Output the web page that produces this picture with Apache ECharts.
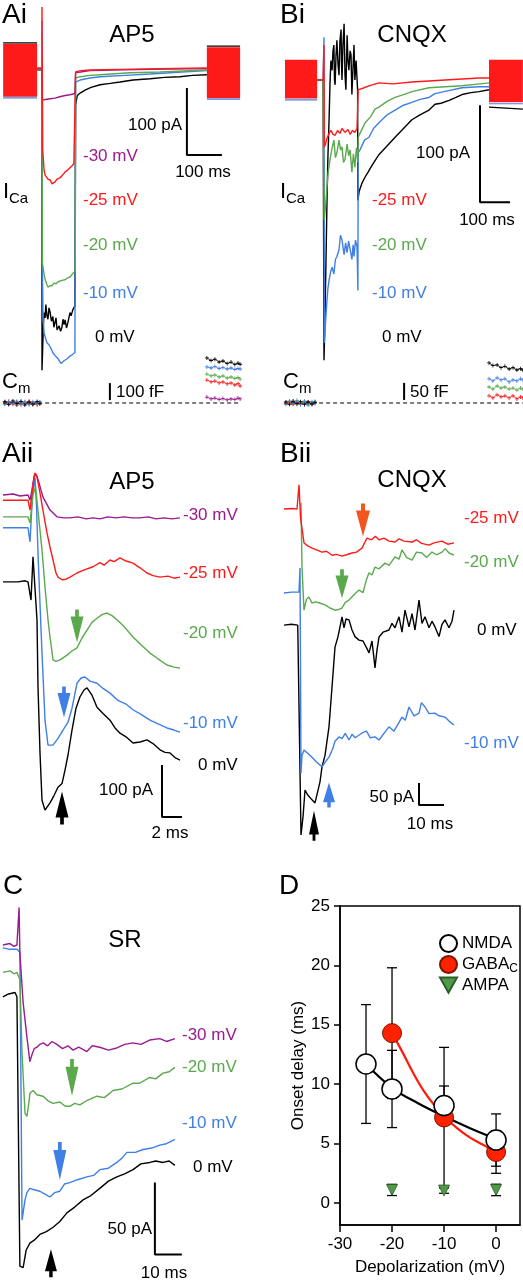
<!DOCTYPE html>
<html>
<head>
<meta charset="utf-8">
<script src="https://cdn.jsdelivr.net/npm/echarts@6.0.0/dist/echarts.min.js"></script>
<style>
html,body{margin:0;padding:0;background:#fff;}
#c{width:523px;height:1280px;}
</style>
</head>
<body>
<div id="c"></div>
<script>
// ================= DATA (time in ms, current in pA, capacitance in fF) =================
// ---- Panel Ai (AP5, I_Ca during step) ----
const aiPurple = [[-14,2],[0,2],[1,-45],[10,-44],[23,-43],[37,-42],[51,-40],[66,-38],[80,-37],[94,-35],[96,-4],[110,-3],[137,-1],[200,0],[309,1],[471,2]];
const aiRed = [[-14,3],[0,3],[0,94],[2,-119],[6,-150],[9,-157],[17,-163],[23,-164],[29,-170],[37,-167],[43,-163],[51,-161],[57,-158],[66,-152],[74,-149],[80,-146],[86,-143],[91,-140],[94,-142],[96,-3],[110,-1],[137,0],[223,1],[337,2],[471,3]];
const aiGreen = [[-14,0],[0,0],[1,-288],[6,-305],[9,-313],[14,-320],[17,-324],[23,-322],[29,-322],[34,-318],[40,-319],[46,-316],[51,-318],[57,-314],[66,-313],[74,-310],[80,-309],[86,-305],[91,-303],[95,-300],[96,-12],[109,-10],[137,-8],[166,-7],[251,-4],[337,-3],[471,0]];
const aiBlack = [[-14,0],[0,0],[0,-448],[4,-380],[6,-362],[9,-370],[11,-350],[14,-366],[17,-372],[20,-355],[23,-361],[27,-375],[31,-368],[34,-384],[40,-370],[43,-388],[49,-382],[53,-390],[57,-384],[60,-372],[63,-380],[66,-373],[70,-385],[74,-377],[80,-362],[83,-367],[88,-358],[91,-360],[94,-352],[96,-52],[100,-40],[103,-37],[110,-34],[123,-30],[140,-26],[166,-22],[195,-20],[223,-18],[260,-15],[309,-13],[350,-11],[394,-10],[430,-8],[471,-7]];
const aiBlue = [[-14,0],[0,0],[0,73],[1,-290],[3,-370],[6,-393],[11,-402],[14,-407],[20,-410],[23,-413],[28,-418],[31,-422],[37,-426],[40,-428],[46,-431],[49,-433],[54,-438],[57,-436],[63,-434],[66,-433],[72,-431],[74,-430],[80,-427],[86,-425],[91,-423],[94,-422],[96,-18],[109,-15],[137,-12],[166,-10],[237,-8],[309,-6],[400,-3],[471,-1]];
// sine-wave (capacitance) stimulus blocks: [tStart, Itop, tEnd, Ibottom]
const aiBlocks = [[-111,39,-14,-40],[471,34,566,-42]];
const aiScale = [[414,-27],[414,-127],[514,-127]];           // 100 pA, 100 ms
// Ai capacitance (fF)
const aiCmBlack  = [[-106,6],[-95,-9],[-83,12],[-72,-4],[-60,10],[-49,-12],[-37,5],[-26,-7],[-14,9],[-6,-2],'-',[471,265],[483,250],[494,258],[506,241],[517,247],[529,232],[540,241],[551,226],[560,235],[566,228]];
const aiCmBlue   = [[-106,-8],[-95,7],[-83,-3],[-72,11],[-60,-6],[-49,4],[-37,-10],[-26,8],[-14,-4],[-6,6],'-',[471,212],[483,206],[494,215],[506,203],[517,209],[529,200],[540,206],[551,197],[560,203],[566,200]];
const aiCmGreen  = [[-106,4],[-95,-4],[-83,8],[-72,-9],[-60,3],[-49,9],[-37,-6],[-26,2],[-14,-8],[-6,3],'-',[471,170],[483,159],[494,165],[506,153],[517,159],[529,147],[540,153],[551,144],[560,150],[566,141]];
const aiCmRed    = [[-106,-3],[-95,10],[-83,-7],[-72,5],[-60,-10],[-49,2],[-37,8],[-26,-9],[-14,4],[-6,-6],'-',[471,135],[483,124],[494,129],[506,118],[517,124],[529,112],[540,118],[551,106],[560,115],[566,100]];
const aiCmPurple = [[-106,9],[-95,-5],[-83,2],[-72,-12],[-60,6],[-49,-3],[-37,10],[-26,-4],[-14,-10],[-6,1],'-',[471,35],[483,24],[494,29],[506,21],[517,26],[529,18],[540,24],[551,21],[560,29],[566,24]];
const aiCmBase = [[-111,0],[566,0]];
const aiCmScale = [[194,17],[194,117]];                        // 100 fF

// ---- Panel Bi (CNQX) ----
const biRed = [[-23,0],[-3,0],[0,36],[1,-69],[5,-66],[10,-60],[13,-62],[17,-55],[23,-52],[30,-56],[37,-57],[45,-52],[53,-55],[60,-50],[70,-54],[80,-51],[87,-56],[95,-52],[103,-54],[110,-50],[113,-52],[114,-10],[125,-9],[150,-6],[183,-3],[230,-4],[293,-2],[350,-1],[403,0],[460,1],[517,2],[550,2]];
const biGreen = [[-23,0],[-3,0],[1,-144],[5,-130],[10,-110],[14,-95],[20,-82],[27,-70],[33,-62],[38,-80],[43,-75],[50,-62],[55,-72],[60,-69],[65,-85],[70,-82],[77,-66],[82,-78],[87,-72],[93,-95],[98,-76],[103,-90],[108,-70],[113,-85],[114,-59],[120,-55],[137,-44],[155,-38],[170,-30],[183,-28],[210,-22],[237,-18],[265,-15],[293,-12],[350,-8],[403,-7],[460,-6],[520,-4],[550,-3]];
const biBlue = [[-23,0],[-3,0],[0,44],[1,-271],[5,-250],[10,-227],[13,-215],[17,-206],[22,-198],[27,-193],[33,-200],[38,-185],[43,-182],[50,-175],[55,-160],[60,-165],[67,-180],[72,-168],[77,-178],[82,-166],[87,-168],[93,-185],[97,-170],[100,-182],[105,-165],[110,-172],[112,-200],[113,-217],[114,-75],[120,-72],[135,-62],[150,-59],[165,-50],[183,-44],[210,-36],[237,-31],[265,-26],[293,-23],[320,-20],[350,-18],[370,-14],[400,-12],[460,-8],[517,-7],[550,-7]];
const biBlack = [[-23,0],[-3,0],[0,-289],[3,-250],[7,-180],[10,-124],[13,-80],[17,-40],[20,-3],[23,20],[27,10],[30,30],[33,36],[35,0],[37,-5],[40,25],[43,41],[47,15],[50,5],[53,40],[57,52],[58,20],[60,0],[63,35],[67,58],[70,5],[73,-10],[77,46],[80,20],[83,10],[87,30],[90,26],[93,-15],[97,15],[100,36],[103,0],[107,20],[110,21],[112,-10],[113,-124],[117,-115],[127,-106],[137,-100],[147,-95],[160,-88],[183,-77],[210,-68],[237,-59],[265,-50],[293,-41],[320,-36],[350,-31],[370,-25],[390,-24],[417,-21],[440,-18],[460,-15],[490,-13],[517,-12],[550,-10]];
const biBlocks = [[-130,21,-23,-19],[550,21,663,-23]];
const biScale = [[520,-26],[520,-126],[620,-126]];            // 100 pA, 100 ms
const biCmBlack = [[-127,3],[-115,-4],[-103,5],[-90,-2],[-78,4],[-65,-5],[-53,3],[-40,-3],[-30,2],'-',[550,118],[563,110],[577,112],[590,104],[603,108],[617,100],[630,104],[643,97],[655,101],[663,97]];
const biCmBlue  = [[-127,-4],[-115,6],[-103,-2],[-90,8],[-78,-5],[-65,3],[-53,-6],[-40,4],[-30,-2],'-',[550,71],[563,65],[577,74],[590,68],[603,71],[617,62],[630,68],[643,65],[655,71],[663,68]];
const biCmGreen = [[-127,2],[-115,-2],[-103,6],[-90,-4],[-78,2],[-65,6],[-53,-3],[-40,1],[-30,5],'-',[550,47],[563,41],[577,50],[590,44],[603,47],[617,41],[630,44],[643,38],[655,44],[663,41]];
const biCmRed   = [[-127,-1],[-115,3],[-103,-4],[-90,2],[-78,-3],[-65,1],[-53,4],[-40,-5],[-30,1],'-',[550,21],[563,15],[577,24],[590,18],[603,21],[617,15],[630,21],[643,12],[655,18],[663,15]];
const biCmBase = [[-133,0],[663,0]];
const biCmScale = [[267,9],[267,59]];                          // 50 fF

// ---- Panel Aii (AP5, expanded) ----
const aiiPurple = [[-2.5,0],[-1.5,2],[-0.8,-2],[0,0],[0.2,-10],[0.4,10],[0.6,35],[0.7,42],[0.85,38],[1.0,30],[1.5,-4],[2.2,-29],[2.9,-42],[3.6,-44],[4.2,-44],[5.0,-42],[5.8,-46],[6.5,-44],[7.2,-46],[8.0,-42],[8.8,-44],[9.6,-42],[10.4,-44],[11.2,-44],[12.0,-42],[12.8,-46],[13.6,-44],[14.4,-46],[15.2,-44]];
const aiiRed = [[-2.5,-10],[-1,-10],[0,-10],[0.2,-29],[0.5,20],[0.7,42],[0.9,35],[1.2,4],[1.5,-30],[1.9,-73],[2.2,-100],[2.5,-125],[2.8,-150],[3.0,-158],[3.4,-163],[3.8,-162],[4.2,-158],[4.9,-150],[5.5,-145],[6.5,-138],[7.2,-130],[7.6,-135],[8.2,-125],[8.6,-128],[9.2,-121],[9.8,-127],[10.5,-131],[11.2,-140],[11.9,-150],[12.5,-155],[13.2,-158],[14.0,-156],[14.6,-160],[15.2,-158]];
const aiiGreen = [[-2.5,-42],[-1,-42],[0,-42],[0.2,-54],[0.5,0],[0.75,15],[1.0,-30],[1.4,-106],[1.7,-177],[2.0,-240],[2.2,-273],[2.5,-317],[2.8,-320],[3.2,-317],[3.9,-308],[4.4,-300],[4.9,-294],[5.4,-275],[5.9,-260],[6.4,-245],[6.9,-237],[7.4,-230],[7.9,-227],[8.4,-232],[8.9,-240],[9.7,-255],[10.5,-273],[11.3,-288],[12.2,-304],[13.0,-315],[13.9,-327],[14.6,-331],[15.2,-333]];
const aiiBlue = [[-2.5,-63],[-1,-63],[0,-63],[0.2,-90],[0.45,0],[0.7,33],[0.85,-20],[1.0,-112],[1.2,-210],[1.4,-304],[1.7,-433],[2.0,-481],[2.5,-481],[3.0,-468],[3.5,-452],[4.0,-437],[4.4,-410],[4.9,-362],[5.3,-352],[5.7,-350],[6.2,-358],[6.9,-362],[7.5,-372],[8.2,-381],[9.0,-395],[9.8,-402],[10.5,-413],[11.3,-422],[12.2,-433],[13.0,-440],[13.9,-448],[14.6,-452],[15.2,-456]];
const aiiBlack = [[-2.5,-167],[-1,-167],[-0.3,-165],[0,-167],[0.3,-202],[0.5,-119],[0.7,-180],[0.9,-240],[1.0,-369],[1.2,-496],[1.4,-587],[1.7,-606],[2.2,-592],[2.6,-578],[3.0,-562],[3.4,-555],[3.7,-529],[4.0,-500],[4.4,-452],[4.8,-410],[5.2,-388],[5.6,-375],[5.9,-371],[6.4,-385],[6.9,-408],[7.5,-420],[8.2,-433],[8.7,-448],[9.2,-458],[9.8,-465],[10.5,-477],[11.2,-475],[11.9,-471],[12.5,-478],[13.2,-490],[13.7,-495],[14.2,-496],[14.7,-505],[15.2,-510]];
const aiiArrowsDown = { green: [4.9,-252], blue: [3.6,-398] };
const aiiArrowsUp = { black: [3.4,-602] };
const aiiScale = [[13.4,-519],[13.4,-619],[15.4,-619]];      // 100 pA, 2 ms

// ---- Panel Bii (CNQX, expanded) ----
const biiRed = [[-6,0],[-3,1],[-0.8,0],[0,55],[0.6,-20],[2,-77],[3.5,-84],[5.2,-89],[7,-93],[9.2,-98],[11,-96],[13.2,-105],[15,-103],[17.2,-107],[19,-104],[21.2,-100],[23,-98],[25.2,-89],[26,-85],[27.2,-66],[29,-70],[30.5,-62],[32,-70],[34,-66],[36,-73],[38.4,-75],[40,-68],[42,-73],[45.2,-75],[47,-70],[49,-78],[52,-82],[54,-77],[57.2,-73],[59.5,-80],[62,-77]];
const biiGreen = [[0.8,14],[1.0,-60],[1.2,-132],[2,-230],[3,-205],[4,-200],[5.2,-214],[6.4,-211],[8,-213],[10.4,-218],[12.4,-225],[14.4,-230],[16,-228],[17.2,-225],[18.5,-212],[20,-207],[22,-195],[24,-184],[25.6,-190],[27,-160],[28,-145],[29.2,-150],[30.4,-132],[32,-136],[34.4,-123],[36,-128],[38.4,-109],[40,-114],[41.2,-93],[43,-110],[45.2,-116],[47,-98],[49.2,-100],[51,-110],[53.2,-98],[55,-104],[57.2,-98],[58.5,-90],[60,-100],[62,-105]];
const biiBlack = [[-6,-264],[-3,-262],[-0.5,-264],[0,-264],[0.8,-741],[1.6,-700],[2.4,-639],[3.5,-650],[5.2,-661],[6.4,-668],[7.2,-668],[8.4,-620],[9.2,-586],[10.4,-560],[12,-495],[12.6,-450],[13.2,-405],[14.4,-314],[15.6,-290],[16.4,-268],[17.2,-245],[18,-270],[18.8,-250],[20,-252],[21.2,-275],[22.4,-290],[24,-298],[25.6,-300],[27,-315],[28,-327],[29.2,-300],[30,-340],[30.4,-361],[31.2,-320],[32,-291],[33.6,-280],[36,-275],[37.2,-260],[38.4,-270],[40,-245],[41.2,-280],[42.4,-230],[44,-268],[45.2,-238],[46.4,-275],[48,-207],[49.2,-260],[50.4,-245],[52,-270],[53.2,-255],[54.4,-268],[56,-290],[57.2,-262],[58.4,-252],[60,-270],[61.2,-255],[62,-230]];
const biiBlue = [[-6,-191],[-3,-189],[0,-189],[0.4,-134],[0.8,-600],[1.2,-560],[2,-548],[3.5,-555],[5.2,-564],[7,-575],[9.2,-586],[10.5,-575],[12,-564],[13.5,-545],[14.4,-528],[16,-518],[17.2,-522],[18.5,-510],[20,-525],[21.2,-512],[22.5,-520],[25.2,-509],[27,-505],[28.5,-520],[30.4,-518],[32,-525],[34,-510],[36,-495],[38,-505],[41.2,-473],[42.5,-480],[44,-450],[46,-470],[48,-464],[49,-440],[50.4,-450],[52,-465],[54.4,-464],[56,-470],[58.4,-473],[60,-482],[62,-491]];
const biiArrowsDown = { orange: [25.6,-25], green: [17.2,-170] };
const biiArrowsUp = { blue: [12,-650], black: [6,-720] };
const biiScale = [[48,-623],[48,-673],[58,-673]];              // 50 pA, 10 ms

// ---- Panel C (SR) ----
const cPurple = [[-5.6,0],[-3,1],[-1.5,-1],[-0.4,0],[0.4,26],[0.7,-6],[1.9,-40],[3.3,-64],[4.4,-81],[5.2,-76],[6.0,-72],[7.0,-71],[8.1,-69],[9.3,-68],[11,-70],[12.6,-67],[14.4,-69],[16.5,-72],[18.5,-70],[20.4,-73],[22.5,-71],[25.5,-74],[27.5,-70],[30.3,-71],[33.5,-73],[36.6,-71.5],[39.5,-69],[42.6,-68],[45.5,-69],[48.8,-66],[52.5,-65],[55,-67],[58.1,-65]];
const cGreen = [[-5.6,-19],[-3,-18],[-1.5,-20],[-0.4,-19],[0.3,-20],[0.7,-24],[1.5,-75],[2.6,-117],[3.3,-119],[4.0,-110],[4.4,-103],[5.6,-101],[7.0,-104],[9.3,-105],[11,-108],[13.0,-110],[15.5,-109],[17.5,-112],[19.2,-112],[21,-110],[22.9,-111],[25.5,-108],[29.2,-105],[32,-106],[35.2,-101],[38.5,-100],[42.6,-96],[45,-96],[48.8,-92],[51,-93],[53.7,-89],[56,-88],[58.1,-85]];
const cBlue = [[-5.6,-2],[-3,-3],[-0.4,-3],[0.7,-5],[1.5,-191],[2.6,-177],[3.3,-172],[4.4,-169],[6,-170],[8.1,-171],[10,-173],[11.8,-175],[13.5,-172],[15.5,-171],[17.2,-166],[19.2,-165],[22,-163],[25.5,-161],[28,-160],[30.3,-156],[33.5,-155],[36.6,-151],[38.5,-148],[40.3,-144],[43.5,-144],[46.3,-142],[49.5,-141],[52.5,-139],[55,-138],[58.1,-135]];
const cBlack = [[-5.6,-36],[-3.5,-34],[-1.1,-33],[-0.4,-36],[0.7,-223],[1.9,-224],[3.0,-212],[4.4,-207],[6,-205],[8.1,-201],[10.5,-199],[13.0,-196],[15.5,-192],[18.1,-186],[21,-182],[24.1,-177],[27,-174],[30.3,-169],[33.5,-164],[36.6,-161],[39.5,-159],[42.6,-156],[45.5,-152],[48.8,-151],[51,-150],[53.7,-151],[56,-150],[58.1,-153]];
const cArrowsDown = { green: [20,-92], blue: [15.5,-150] };
const cArrowsUp = { black: [12.2,-221] };
const cScale = [[50.7,-165],[50.7,-215],[60.7,-215]];          // 50 pA, 10 ms

// ---- Panel D (onset delay vs depolarization) ----
const nmdaVolt = [-25, -20, -10, 0];
const nmdaDelay = [11.7, 9.6, 8.2, 5.3];
const nmdaErr = [5.0, 3.25, 1.65, 2.2];
const gabaVolt = [-20, -10, 0];
const gabaDelay = [14.3, 7.2, 4.3];
const gabaErr = [5.5, 5.9, 1.8];
const ampaVolt = [-20, -10, 0];
const ampaDelay = [1.1, 1.05, 1.1];
const ampaErr = [0.47, 0.23, 0.48];
const nmdaFitX = [-25, -20, -15, -10, -5, 0];
const nmdaFitY = [11.7, 9.7, 8.4, 7.3, 6.3, 5.4];
const gabaFitX = [-20, -18, -16, -14, -12, -10, -7.5, -5, -2.5, 0];
const gabaFitY = [14.3, 12.7, 11.0, 9.5, 8.3, 7.3, 6.3, 5.5, 4.9, 4.3];
const voltTicks = [-30, -20, -10, 0];
const delayTicks = [0, 5, 10, 15, 20, 25];

// ================= LAYOUT / STYLE =================
const FF = "'Liberation Sans', Arial, Helvetica, sans-serif";
const PURPLE = '#9a1a8f', RED = '#ff1a1a', GREEN = '#5aa94d', BLUE = '#3f7fe6', BLACK = '#000000', ORANGE = '#f0561e';
const DOWN = 'path://M5,0L9,0L9,7L14,7L7,33L0,7L5,7Z';
const UP = 'path://M7,0L14,26L9,26L9,33L5,33L5,26L0,26Z';
const PLUS = 'path://M2,0H3V2H5V3H3V5H2V3H0V2H2Z';
const LW = 1.4;

// panel pixel boxes and unit-per-pixel scales (for the trace panels)
const PANELS = [
  {box:[0,0,262,420],    x0:42,  y0:70,  sx:100/35, sy:100/67}, // 0 Ai
  {box:[0,0,262,420],    x0:42,  y0:403, sx:100/35, sy:100/17}, // 1 Ai Cm
  {box:[262,0,261,420],  x0:324, y0:80,  sx:100/30, sy:100/97}, // 2 Bi
  {box:[262,0,261,420],  x0:324, y0:403, sx:100/30, sy:50/17},  // 3 Bi Cm
  {box:[0,420,262,420],  x0:28,  y0:495, sx:2/20,   sy:100/52}, // 4 Aii
  {box:[262,420,261,420],x0:299, y0:509, sx:10/25,  sy:50/22},  // 5 Bii
  {box:[0,820,262,460],  x0:18,  y0:945, sx:10/27,  sy:50/72}   // 6 C
];

const grids = [], xAxes = [], yAxes = [];
PANELS.forEach((p, i) => {
  const [L, T, W, H] = p.box;
  grids.push({left:L, top:T, width:W, height:H, show:false});
  xAxes.push({type:'value', gridIndex:i, show:false, min:(L - p.x0) * p.sx, max:(L + W - p.x0) * p.sx});
  yAxes.push({type:'value', gridIndex:i, show:false, max:(p.y0 - T) * p.sy, min:(p.y0 - T - H) * p.sy});
});
// Panel D grid (index 7)
grids.push({left:340, top:906, width:180, height:319, show:true, borderColor:'#000', borderWidth:1.5, backgroundColor:'transparent'});
const axisTxt = {color:'#000', fontSize:17, fontFamily:FF};
xAxes.push({type:'value', gridIndex:7, min:-30, max:4.6,
  axisLine:{show:true, onZero:false, lineStyle:{color:'#000', width:1.5}},
  axisTick:{show:true, inside:false, length:7, lineStyle:{color:'#000', width:1.5}, customValues:voltTicks},
  axisLabel:Object.assign({customValues:voltTicks, margin:11}, axisTxt),
  splitLine:{show:false},
  name:'Depolarization (mV)', nameLocation:'middle', nameGap:34, nameTextStyle:axisTxt});
yAxes.push({type:'value', gridIndex:7, min:-1.85, max:25,
  axisLine:{show:true, onZero:false, lineStyle:{color:'#000', width:1.5}},
  axisTick:{show:true, inside:false, length:6, lineStyle:{color:'#000', width:1.5}, customValues:delayTicks},
  axisLabel:Object.assign({customValues:delayTicks, margin:10}, axisTxt),
  splitLine:{show:false},
  name:'Onset delay (ms)', nameLocation:'middle', nameGap:32, nameTextStyle:axisTxt});

const S = [];
function line(g, data, color, width, extra) {
  S.push(Object.assign({type:'line', xAxisIndex:g, yAxisIndex:g, data:data, showSymbol:false, symbol:'none',
    lineStyle:{color:color, width:width || LW}, itemStyle:{color:color}, clip:false, silent:true, animation:false, z:2}, extra || {}));
}
function blocksArea(blocks) {
  return {silent:true, itemStyle:{color:RED, opacity:1},
    data: blocks.map(b => [{coord:[b[0], b[1]]}, {coord:[b[2], b[3]]}])};
}
function edge(g, blocks, idxY, off, color) {
  blocks.forEach(b => line(g, [[b[0], b[idxY] + off], [b[2], b[idxY] + off]], color, 1.2));
}
function arrow(g, pt, dir, color, size) {
  S.push({type:'scatter', xAxisIndex:g, yAxisIndex:g, data:[pt], symbol: dir === 'down' ? DOWN : UP,
    symbolSize:size, itemStyle:{color:color, opacity:1}, silent:true, animation:false, z:6, clip:false});
}
function cm(g, data, color) {
  line(g, data, color, 0.8, {showSymbol:true, symbol:PLUS, symbolSize:4, connectNulls:false, itemStyle:{color:color, opacity:1}});
}

// ---- Ai ----
edge(0, aiBlocks, 1, 1.5, BLACK);
edge(0, aiBlocks, 3, -1.5, BLUE);
line(0, aiBlack, BLACK); line(0, aiBlue, BLUE); line(0, aiGreen, GREEN); line(0, aiPurple, PURPLE);
line(0, aiRed, RED, LW, {markArea: blocksArea(aiBlocks)});
line(0, aiScale, BLACK, 2);
cm(1, aiCmPurple, PURPLE); cm(1, aiCmRed, RED); cm(1, aiCmGreen, GREEN); cm(1, aiCmBlue, BLUE); cm(1, aiCmBlack, BLACK);
line(1, aiCmBase, BLACK, 1, {lineStyle:{color:'#000', width:1, type:[4,3]}});
line(1, aiCmScale, BLACK, 2);

// ---- Bi ----
edge(2, biBlocks, 3, -1.5, BLUE);
line(2, [[biBlocks[1][0], biBlocks[1][3] - 5], [biBlocks[1][2], biBlocks[1][3] - 7]], BLACK, 1.2);
line(2, biBlack, BLACK); line(2, biBlue, BLUE); line(2, biGreen, GREEN);
line(2, biRed, RED, LW, {markArea: blocksArea(biBlocks)});
line(2, biScale, BLACK, 2);
cm(3, biCmRed, RED); cm(3, biCmGreen, GREEN); cm(3, biCmBlue, BLUE); cm(3, biCmBlack, BLACK);
line(3, biCmBase, BLACK, 1, {lineStyle:{color:'#000', width:1, type:[4,3]}});
line(3, biCmScale, BLACK, 2);

// ---- Aii ----
line(4, aiiBlack, BLACK); line(4, aiiBlue, BLUE); line(4, aiiGreen, GREEN); line(4, aiiPurple, PURPLE); line(4, aiiRed, RED);
arrow(4, aiiArrowsDown.green, 'down', GREEN, [13,33]);
arrow(4, aiiArrowsDown.blue, 'down', BLUE, [13,31]);
arrow(4, aiiArrowsUp.black, 'up', BLACK, [13,33]);
line(4, aiiScale, BLACK, 2);

// ---- Bii ----
line(5, biiBlack, BLACK); line(5, biiBlue, BLUE); line(5, biiGreen, GREEN); line(5, biiRed, RED);
arrow(5, biiArrowsDown.orange, 'down', ORANGE, [14,33]);
arrow(5, biiArrowsDown.green, 'down', GREEN, [13,29]);
arrow(5, biiArrowsUp.blue, 'up', BLUE, [12,25]);
arrow(5, biiArrowsUp.black, 'up', BLACK, [10,30]);
line(5, biiScale, BLACK, 2);

// ---- C ----
line(6, cBlack, BLACK); line(6, cBlue, BLUE); line(6, cGreen, GREEN); line(6, cPurple, PURPLE);
arrow(6, cArrowsDown.green, 'down', GREEN, [13,37]);
arrow(6, cArrowsDown.blue, 'down', BLUE, [13,38]);
arrow(6, cArrowsUp.black, 'up', BLACK, [12,28]);
line(6, cScale, BLACK, 2);

// ---- D ----
function errBars(xs, ms, es) {
  return {type:'custom', xAxisIndex:7, yAxisIndex:7, silent:true, animation:false, z:3,
    data: xs.map((x, i) => [x, ms[i], es[i]]),
    renderItem: function (params, api) {
      const x = api.value(0), m = api.value(1), e = api.value(2);
      const a = api.coord([x, m + e]), b = api.coord([x, m - e]);
      const w = 5, st = {stroke:'#000', lineWidth:1.3};
      return {type:'group', children:[
        {type:'line', shape:{x1:a[0], y1:a[1], x2:b[0], y2:b[1]}, style:st},
        {type:'line', shape:{x1:a[0]-w, y1:a[1], x2:a[0]+w, y2:a[1]}, style:st},
        {type:'line', shape:{x1:b[0]-w, y1:b[1], x2:b[0]+w, y2:b[1]}, style:st}
      ]};
    }};
}
S.push(errBars(nmdaVolt, nmdaDelay, nmdaErr));
S.push(errBars(gabaVolt, gabaDelay, gabaErr));
S.push(errBars(ampaVolt, ampaDelay, ampaErr));
S.push({type:'line', xAxisIndex:7, yAxisIndex:7, data:nmdaFitX.map((x,i)=>[x, nmdaFitY[i]]), smooth:0.4, showSymbol:false, symbol:'none',
  lineStyle:{color:'#000', width:2.2}, silent:true, animation:false, z:4});
S.push({type:'line', xAxisIndex:7, yAxisIndex:7, data:gabaFitX.map((x,i)=>[x, gabaFitY[i]]), smooth:0.4, showSymbol:false, symbol:'none',
  lineStyle:{color:'#ff1a0a', width:2.2}, silent:true, animation:false, z:4});
S.push({name:'AMPA', type:'scatter', xAxisIndex:7, yAxisIndex:7, data:ampaVolt.map((x,i)=>[x, ampaDelay[i]]),
  symbol:'triangle', symbolRotate:180, symbolSize:11, itemStyle:{color:'#4e9a47', borderColor:'#2d5e2a', borderWidth:0.8, opacity:1}, silent:true, animation:false, z:5});
S.push({name:'GABAC', type:'scatter', xAxisIndex:7, yAxisIndex:7, data:gabaVolt.map((x,i)=>[x, gabaDelay[i]]),
  symbol:'circle', symbolSize:19, itemStyle:{color:'#ff2200', borderColor:'#7a1500', borderWidth:1, opacity:1}, silent:true, animation:false, z:5});
S.push({name:'NMDA', type:'scatter', xAxisIndex:7, yAxisIndex:7, data:nmdaVolt.map((x,i)=>[x, nmdaDelay[i]]),
  symbol:'circle', symbolSize:20, itemStyle:{color:'#ffffff', borderColor:'#000', borderWidth:1.5, opacity:1}, silent:true, animation:false, z:6});

// ---- texts ----
function T(x, y, s, size, color, align) {
  return {type:'text', x:x, y:y, z:100, silent:true,
    style:{text:s, font:size + 'px ' + FF, fill:color || '#000', align:align || 'left', verticalAlign:'middle',
      textAlign:align || 'left', textVerticalAlign:'middle'}};
}
const G = [
  // Ai
  T(2, 15, 'Ai', 28), T(132, 35, 'AP5', 24, BLACK, 'center'),
  T(182, 125, '100 pA', 17, BLACK, 'right'), T(203, 172, '100 ms', 17, BLACK, 'center'),
  T(83, 156, '-30 mV', 17, PURPLE), T(83, 200, '-25 mV', 17, RED), T(83, 245, '-20 mV', 17, GREEN),
  T(83, 293, '-10 mV', 17, BLUE), T(95, 337, '0 mV', 17, BLACK),
  T(3, 192, 'I', 22), T(9, 199, 'Ca', 15), T(2, 382, 'C', 22), T(18, 389, 'm', 15),
  T(116, 392, '100 fF', 17),
  // Bi
  T(280, 15, 'Bi', 28), T(412, 35, 'CNQX', 24, BLACK, 'center'),
  T(470, 153, '100 pA', 17, BLACK, 'right'), T(487, 220, '100 ms', 17, BLACK, 'center'),
  T(372, 200, '-25 mV', 17, RED), T(372, 245, '-20 mV', 17, GREEN), T(372, 293, '-10 mV', 17, BLUE),
  T(382, 337, '0 mV', 17, BLACK),
  T(280, 192, 'I', 22), T(286, 199, 'Ca', 15), T(283, 382, 'C', 22), T(299, 389, 'm', 15),
  T(410, 392, '50 fF', 17),
  // Aii
  T(2, 454, 'Aii', 28), T(132, 482, 'AP5', 24, BLACK, 'center'),
  T(183, 515, '-30 mV', 17, PURPLE), T(183, 573, '-25 mV', 17, RED), T(183, 633, '-20 mV', 17, GREEN),
  T(183, 723, '-10 mV', 17, BLUE), T(198, 765, '0 mV', 17, BLACK),
  T(153, 790, '100 pA', 17, BLACK, 'right'), T(170, 833, '2 ms', 17, BLACK, 'center'),
  // Bii
  T(280, 454, 'Bii', 28), T(412, 480, 'CNQX', 24, BLACK, 'center'),
  T(464, 518, '-25 mV', 17, RED), T(464, 562, '-20 mV', 17, GREEN), T(477, 630, '0 mV', 17, BLACK),
  T(464, 743, '-10 mV', 17, BLUE),
  T(414, 797, '50 pA', 17, BLACK, 'right'), T(430, 824, '10 ms', 17, BLACK, 'center'),
  // C
  T(3, 886, 'C', 28), T(125, 940, 'SR', 24, BLACK, 'center'),
  T(182, 1035, '-30 mV', 17, PURPLE), T(182, 1067, '-20 mV', 17, GREEN), T(182, 1123, '-10 mV', 17, BLUE),
  T(193, 1167, '0 mV', 17, BLACK),
  T(152, 1229, '50 pA', 17, BLACK, 'right'), T(164, 1273, '10 ms', 17, BLACK, 'center'),
  // D
  T(279, 886, 'D', 28)
];

const chart = echarts.init(document.getElementById('c'), null, {renderer:'canvas', width:523, height:1280});
chart.setOption({
  animation:false,
  backgroundColor:'#ffffff',
  grid:grids, xAxis:xAxes, yAxis:yAxes, series:S, graphic:G,
  legend:{
    data:[{name:'NMDA', icon:'circle'}, {name:'GABAC', icon:'circle'}, {name:'AMPA', icon:'path://M0,0L10,0L5,9Z'}],
    orient:'vertical', left:434, top:929, itemWidth:17, itemHeight:17, itemGap:2, selectedMode:false,
    formatter: n => n === 'GABAC' ? 'GABA{sub|C}' : n,
    textStyle:{color:'#000', fontSize:17, fontFamily:FF, rich:{sub:{fontSize:12, fontFamily:FF, color:'#000', padding:[8,0,0,0]}}}
  }
});
</script>
</body>
</html>
